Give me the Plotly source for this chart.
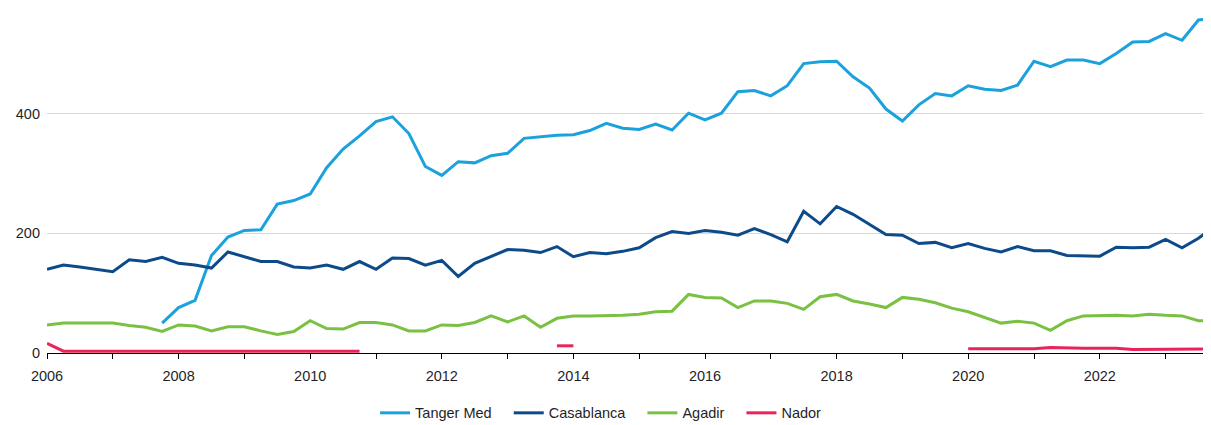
import plotly.graph_objects as go

# Quarterly observations, 2006 Q1 .. 2023 Q4 (decimal year of quarter start)
quarters = [2006 + i * 0.25 for i in range(72)]

tanger_med = [None] * 7 + [
    50, 76, 88, 163, 194, 205, 206, 249, 255, 266, 310, 341, 363, 387, 395, 367,
    312, 297, 320, 318, 330, 334, 359, 362, 364, 365, 372, 384, 376, 374, 383, 373,
    401, 390, 401, 437, 439, 430, 447, 484, 487, 488, 462, 443, 408, 388, 415, 434,
    430, 447, 441, 439, 448, 488, 479, 490, 490, 484, 501, 520, 521, 534, 523, 557,
    560,
]

casablanca = [
    140, 147, 144, 140, 136, 156, 153, 160, 150, 147, 142, 169, 161, 153, 153, 144,
    142, 147, 140, 153, 140, 159, 158, 147, 155, 128, 150, 162, 173, 172, 168, 178,
    161, 168, 166, 170, 176, 193, 203, 200, 205, 202, 197, 208, 198, 186, 237, 216,
    245, 232, 215, 198, 197, 183, 185, 176, 183, 175, 169, 178, 171, 171, 163, 163,
    162, 177, 176, 177, 190, 176, 192, 212,
]

agadir = [
    47, 50, 50, 50, 50, 46, 43, 36, 47, 45, 37, 44, 44, 37, 31, 36,
    54, 41, 40, 51, 51, 47, 37, 37, 47, 46, 51, 62, 52, 62, 43, 58,
    62, 62, 62, 63, 65, 69, 70, 98, 93, 92, 76, 87, 87, 83, 73, 94,
    98, 87, 82, 76, 93, 90, 84, 75, 69, 60, 50, 53, 50, 38, 54, 62,
    63, 63, 62, 65, 63, 62, 54, 54,
]

nador = (
    [16] + [3] * 19 + [None] * 11 + [12, 12] + [None] * 23
    + [7, 7, 7, 7, 7, 9, 8, 8, 8, 8, 6, 6, 6, 7, 7, 7]
)

series_names = ["Tanger Med", "Casablanca", "Agadir", "Nador"]
series_values = [tanger_med, casablanca, agadir, nador]
series_colors = ["#1BA1DC", "#0D4A8A", "#7AC143", "#E8245A"]

year_ticks = list(range(2006, 2024))
year_labels = [str(y) if y % 2 == 0 else "" for y in year_ticks]
y_ticks = [0, 200, 400]

NBSP = "\u00a0"
fig = go.Figure()
for i, (name, vals, col) in enumerate(zip(series_names, series_values, series_colors)):
    pad = NBSP * 3 if i < len(series_names) - 1 else ""
    fig.add_trace(go.Scatter(
        x=quarters, y=vals, name=name + pad, mode="lines",
        line=dict(color=col, width=3), connectgaps=False,
    ))

font_family = "Liberation Sans"
fsize = 14.5
txt_col = "#1f1f2a"
fig.update_layout(
    width=1203, height=417,
    margin=dict(l=39, r=0, t=0, b=72),
    paper_bgcolor="white", plot_bgcolor="white",
    font=dict(family=font_family, size=fsize, color=txt_col),
    showlegend=True,
    legend=dict(
        orientation="h", xref="container", yref="container",
        x=0.493, xanchor="center", y=0.029, yanchor="middle",
        font=dict(family=font_family, size=fsize, color=txt_col),
        itemwidth=30, tracegroupgap=0,
    ),
)
fig.update_xaxes(
    range=[2006, 2023.69],
    tickvals=year_ticks, ticktext=year_labels,
    ticks="outside", ticklen=5, tickcolor="black", tickwidth=1,
    ticklabelstandoff=5,
    showline=True, linecolor="black", linewidth=1,
    showgrid=False, zeroline=False,
    tickfont=dict(family=font_family, size=fsize, color=txt_col),
)
fig.update_yaxes(
    range=[0, 577],
    tickvals=y_ticks,
    showgrid=True, gridcolor="#D9D9D9", gridwidth=1,
    zeroline=False, showline=False, ticks="",
    ticklabelstandoff=6,
    tickfont=dict(family=font_family, size=fsize, color=txt_col),
)

fig.write_html("out.html")
